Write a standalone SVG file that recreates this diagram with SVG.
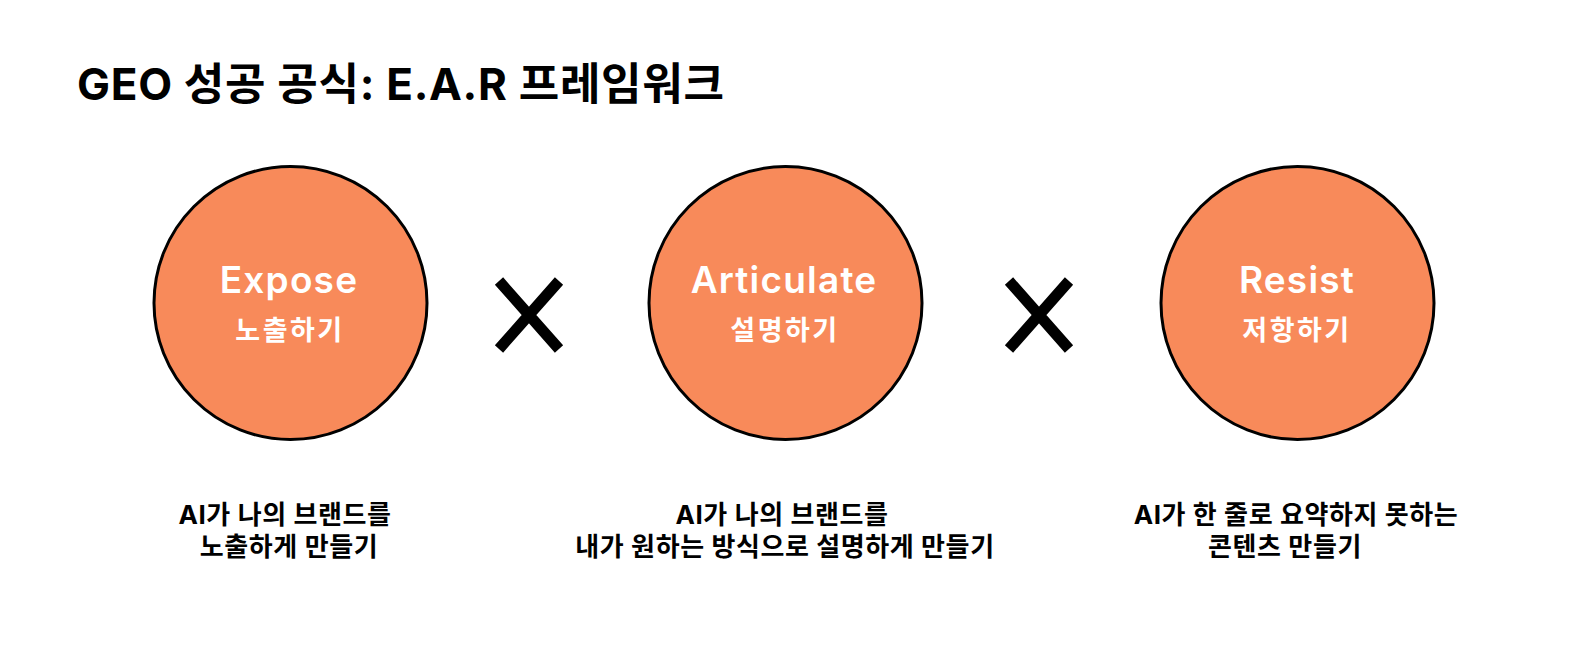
<svg xmlns="http://www.w3.org/2000/svg" width="1569" height="672" viewBox="0 0 1569 672">
<style>
.title{font-family:Inter,"Noto Sans CJK KR",sans-serif;font-weight:700;font-size:44px;letter-spacing:0.7px;fill:#000}
.en{font-family:Inter,"Noto Sans CJK KR",sans-serif;font-weight:600;font-size:37px;letter-spacing:1.2px;fill:#fff;text-anchor:middle}
.ko{font-family:Inter,"Noto Sans CJK KR",sans-serif;font-weight:600;font-size:27px;letter-spacing:2.5px;fill:#fff;text-anchor:middle}
.desc{font-family:Inter,"Noto Sans CJK KR",sans-serif;font-weight:700;font-size:26px;letter-spacing:0.6px;fill:#000;text-anchor:middle}
.c{fill:#F88A5A;stroke:#000;stroke-width:3}
.x{stroke:#000;stroke-width:11;fill:none}
</style>
<rect width="1569" height="672" fill="#fff"/>
<text class="title" x="77" y="100">GEO 성공 공식: E.A.R 프레임워크</text>
<g id="expose">
<circle class="c" cx="290.5" cy="303" r="136.5"/>
<text class="en" x="289" y="293">Expose</text>
<text class="ko" x="290" y="340">노출하기</text>
<text class="desc" x="285" y="524">AI가 나의 브랜드를</text>
<text class="desc" x="289" y="556">노출하게 만들기</text>
</g>
<g id="articulate">
<circle class="c" cx="785.5" cy="303" r="136.5"/>
<text class="en" x="784" y="293">Articulate</text>
<text class="ko" x="785" y="340">설명하기</text>
<text class="desc" x="782" y="524">AI가 나의 브랜드를</text>
<text class="desc" x="785" y="556">내가 원하는 방식으로 설명하게 만들기</text>
</g>
<g id="resist">
<circle class="c" cx="1297.5" cy="303" r="136.5"/>
<text class="en" x="1297" y="293">Resist</text>
<text class="ko" x="1297" y="340">저항하기</text>
<text class="desc" x="1296" y="524">AI가 한 줄로 요약하지 못하는</text>
<text class="desc" x="1285" y="556">콘텐츠 만들기</text>
</g>
<g id="connectors">
<path class="x" d="M499 281L559 349M559 281L499 349"/>
<path class="x" d="M1009 281L1069 349M1069 281L1009 349"/>
</g>
</svg>
